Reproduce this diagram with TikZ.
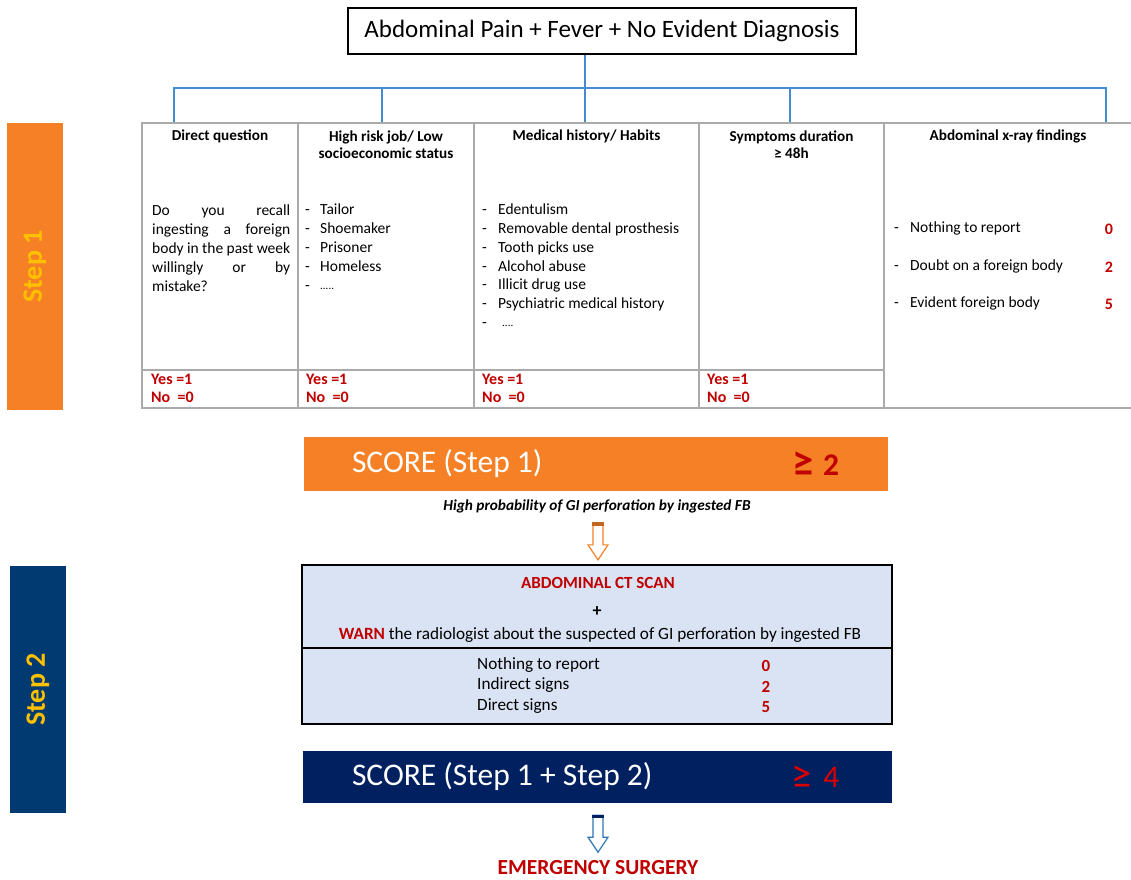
\documentclass[tikz,border=0pt]{standalone}
\usepackage{fontspec}
\setmainfont{Carlito}
\usetikzlibrary{calc}
\definecolor{orng}{RGB}{245,128,37}
\definecolor{stepyel}{RGB}{255,192,0}
\definecolor{navyA}{RGB}{0,58,112}
\definecolor{navyB}{RGB}{0,32,96}
\definecolor{dred}{RGB}{192,0,0}
\definecolor{bred}{RGB}{220,0,0}
\definecolor{cblue}{RGB}{68,140,210}
\definecolor{ablue}{RGB}{46,117,182}
\definecolor{tgray}{RGB}{170,170,170}
\definecolor{ctfill}{RGB}{218,227,243}
\tikzset{
  hdr/.style={font=\fontsize{15.2}{17.5}\selectfont\bfseries, align=center, inner sep=0},
  body/.style={font=\fontsize{15.5}{19}\selectfont, anchor=mid west, inner sep=0},
  dashitem/.style={font=\fontsize{15.5}{19}\selectfont, anchor=mid west, inner sep=0},
  yn/.style={font=\fontsize{16}{18.5}\selectfont\bfseries, text=dred, anchor=north west, inner sep=0, align=left},
  redval/.style={font=\fontsize{16}{19}\selectfont\bfseries, text=dred, inner sep=0},
  conn/.style={draw=cblue, line width=1.3pt},
  gridline/.style={draw=tgray, line width=1.3pt},
  steplabel/.style={font=\fontsize{28}{30}\selectfont\bfseries, text=stepyel, rotate=90, inner sep=0},
  ctline/.style={font=\fontsize{17.2}{20}\selectfont, inner sep=0},
  scoretxt/.style={font=\fontsize{31.5}{34}\selectfont, text=white, anchor=west, inner sep=0},
}
\begin{document}
\begin{tikzpicture}[x=1pt,y=-1pt]
\useasboundingbox (0,0) rectangle (1131,879);

% step labels
\node[steplabel, fill=orng, minimum width=287, minimum height=56] (st1) at (35,266.5) {Step 1};
\node[steplabel, fill=navyA, minimum width=247, minimum height=56] (st2) at (38,689.5) {Step 2};

% top box
\node[draw, line width=1.5pt, minimum width=508, minimum height=46, inner sep=0,
      font=\fontsize{25}{28}\selectfont] (top) at (602,31) {Abdominal Pain + Fever + No Evident Diagnosis};

% connector coordinates
\coordinate (bus) at (0,88);
\coordinate (c1) at (174,123);
\coordinate (c2) at (382,123);
\coordinate (c3) at (585,123);
\coordinate (c4) at (790,123);
\coordinate (c5) at (1106,123);
\draw[conn] (top.south -| c3) -- (c3);
\draw[conn] (c1) -- (c1 |- bus) -- (c5 |- bus) -- (c5);
\draw[conn] (c2) -- (c2 |- bus);
\draw[conn] (c4) -- (c4 |- bus);

% table
\draw[gridline] (1132,123) -- (142,123) -- (142,408) -- (1132,408);
\foreach \xx in {298,474,699,884} \draw[gridline] (\xx,123) -- (\xx,408);
\draw[gridline] (142,370) -- (884,370);

% headers
\node[hdr] (h1) at (220,136) {Direct question};
\node[hdr] (h2) at (386,144.5) {High risk job/ Low\\socioeconomic status};
\node[hdr] (h3) at (586.5,136) {Medical history/ Habits};
\node[hdr] (h4) at (791.5,144.5) {Symptoms duration\\≥ 48h};
\node[hdr] (h5) at (1008,136) {Abdominal x-ray findings};

% column 1
\node[anchor=north west, text width=138pt, align=justify, inner sep=0,
      font=\fontsize{15.5}{19}\selectfont] (q1) at (152,204.5)
  {Do you recall\linebreak ingesting a foreign\linebreak body in the past week\linebreak willingly or by\linebreak mistake?};

% column 2
\foreach \t [count=\i] in {Tailor,Shoemaker,Prisoner,Homeless} {
  \node[dashitem] (d2\i) at (305,{193.5+19*\i}) {-};
  \node[body] (l2\i) at (320,{193.5+19*\i}) {\t};
}
\node[dashitem] (d25) at (305,288.5) {-};
\node[body] (l25) at (320,287.5) {\fontsize{11}{12}\selectfont .....};
% column 3
\foreach \t [count=\i] in {Edentulism,Removable dental prosthesis,Tooth picks use,Alcohol abuse,Illicit drug use,Psychiatric medical history} {
  \node[dashitem] (d3\i) at (482,{193.5+18.8*\i}) {-};
  \node[body] (l3\i) at (498,{193.5+18.8*\i}) {\t};
}
\node[dashitem] (d37) at (482,325) {-};
\node[body] (l37) at (502,324) {\fontsize{11}{12}\selectfont ....};

% column 5
\foreach \t/\v/\yy [count=\i] in {Nothing to report/0/230,Doubt on a foreign body/2/268,Evident foreign body/5/305} {
  \node[dashitem] (d5\i) at (894,\yy) {-};
  \node[body] (l5\i) at (910,\yy) {\t};
  \node[redval] (v5\i) at (1109,\yy-1) {\v};
}

% yes/no
\node[yn] (yn1) at (151,373.5) {Yes =1\\No\ \ =0};
\node[yn] (yn2) at (306,373.5) {Yes =1\\No\ \ =0};
\node[yn] (yn3) at (482,373.5) {Yes =1\\No\ \ =0};
\node[yn] (yn4) at (707,373.5) {Yes =1\\No\ \ =0};

% score 1
\node[fill=orng, minimum width=584, minimum height=54, inner sep=0] (s1) at (596,464) {};
\node[scoretxt] (s1t) at ($(s1.west)+(48,0)$) {SCORE (Step 1)};
\node[scoretxt, text=dred, font=\fontsize{31.5}{34}\selectfont\bfseries] (s1v) at ($(s1.west)+(488,0)$) {\raisebox{-1pt}{\scalebox{1.35}{≥}}\hspace{10pt}2};

\node[inner sep=0, font=\fontsize{15.3}{17}\selectfont\bfseries\itshape] (prob) at (597,506) {High probability of GI perforation by ingested FB};

% orange hollow arrow
\coordinate (oa) at ($(prob.south)+(1,10)$);
\draw[draw=orng, line width=1.2pt, fill=white, line join=miter]
  ($(oa)+(-5,0)$) -- ($(oa)+(5,0)$) -- ($(oa)+(5,22)$) -- ($(oa)+(10,22)$) -- ($(oa)+(0,37)$)
  -- ($(oa)+(-10,22)$) -- ($(oa)+(-5,22)$) -- cycle;
\fill[orng!80!black] ($(oa)+(-5.6,-0.6)$) rectangle ($(oa)+(5.6,3)$);

% CT box
\node[draw, line width=2pt, fill=ctfill, minimum width=590, minimum height=159, inner sep=0] (ct) at (597,644.5) {};
\draw[line width=2pt] (ct.west |- 0,648) -- (ct.east |- 0,648);
\node[ctline, text=dred, font=\fontsize{17}{20}\selectfont\bfseries] (ct1) at (598,583) {ABDOMINAL CT SCAN};
\node[ctline, font=\fontsize{18}{20}\selectfont\bfseries] (ct2) at (597,612) {+};
\node[ctline] (ct3) at (600,635) {\textcolor{dred}{\bfseries WARN} the radiologist about the suspected of GI perforation by ingested FB};
\foreach \t/\v/\yy [count=\i] in {Nothing to report/0/667,Indirect signs/2/687.5,Direct signs/5/708} {
  \node[ctline, anchor=mid west] (cr\i) at (477,\yy) {\t};
  \node[redval, font=\fontsize{17}{20}\selectfont\bfseries] (cv\i) at (766,\yy-1) {\v};
}

% score 2
\node[fill=navyB, minimum width=589, minimum height=52, inner sep=0] (s2) at (597.5,777) {};
\node[scoretxt] (s2t) at ($(s2.west)+(49,0)$) {SCORE (Step 1 + Step 2)};
\node[scoretxt, text=bred] (s2v) at ($(s2.west)+(488,0)$) {\raisebox{-1pt}{\scalebox{1.3}{≥}}\hspace{12pt}4};

% blue hollow arrow
\coordinate (ba) at ($(s2.south)+(0.5,12)$);
\draw[draw=ablue, line width=1.2pt, fill=white, line join=miter]
  ($(ba)+(-5,0)$) -- ($(ba)+(5,0)$) -- ($(ba)+(5,22)$) -- ($(ba)+(10,22)$) -- ($(ba)+(0,37)$)
  -- ($(ba)+(-10,22)$) -- ($(ba)+(-5,22)$) -- cycle;
\fill[navyB] ($(ba)+(-5.6,-0.6)$) rectangle ($(ba)+(5.6,3)$);

\node[inner sep=0, text=dred, font=\fontsize{21.5}{24}\selectfont\bfseries] (es) at (598,868) {EMERGENCY SURGERY};
\end{tikzpicture}
\end{document}
